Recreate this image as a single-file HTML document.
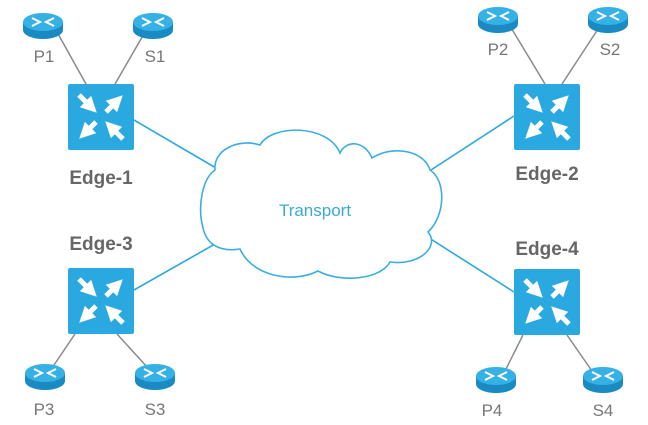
<!DOCTYPE html>
<html><head><meta charset="utf-8"><style>
html,body{margin:0;padding:0;background:#fff;}
svg{display:block;}
text{font-family:"Liberation Sans","DejaVu Sans",sans-serif;}
</style></head><body>
<svg width="648" height="425" viewBox="0 0 648 425" xmlns="http://www.w3.org/2000/svg">
<defs>
<marker id="ah" viewBox="0 0 10 10" refX="4" refY="5" markerWidth="3.2" markerHeight="3.2" orient="auto">
<path d="M0,0 L10,5 L0,10 z" fill="#fff"/>
</marker>
<g id="sw">
<rect x="0" y="0" width="66" height="66" rx="2" fill="#2aa9e0"/>
<g stroke="#fff" stroke-width="5" marker-end="url(#ah)">
<line x1="11" y1="11" x2="22" y2="22"/>
<line x1="38" y1="28" x2="48" y2="18"/>
<line x1="28" y1="38" x2="18" y2="48"/>
<line x1="55" y1="55" x2="44" y2="44"/>
</g>
</g>
<g id="rt">
<path d="M-20,0 v8 a20,9 0 0 0 40,0 v-8 z" fill="#1a8ac2"/>
<ellipse cx="0" cy="0" rx="20" ry="9" fill="#36b1e6"/>
<g stroke="#fff" stroke-width="2" fill="none">
<path d="M-11,-4 L-3,0 L-11,4"/><path d="M11,-4 L3,0 L11,4"/>
</g>
</g>
</defs>
<g stroke="#8a8a8a" stroke-width="1.5">
<line x1="57" y1="32" x2="86" y2="84"/>
<line x1="145" y1="32" x2="115" y2="84"/>
<line x1="510" y1="26" x2="545" y2="84"/>
<line x1="600" y1="26" x2="562" y2="84"/>
<line x1="52" y1="368" x2="75" y2="334"/>
<line x1="148" y1="368" x2="117" y2="334"/>
<line x1="505" y1="371" x2="523" y2="335"/>
<line x1="592" y1="371" x2="567" y2="335"/>
</g>
<g stroke="#2aa9e0" stroke-width="1.6">
<line x1="134" y1="120" x2="216" y2="168"/>
<line x1="514" y1="116" x2="431" y2="170"/>
<line x1="134" y1="290" x2="215" y2="244"/>
<line x1="514" y1="292" x2="426" y2="236"/>
</g>
<path d="M215,170 C203,178 197,205 203,228 C207,246 222,252 240,249 C252,276 292,284 318,271 C340,283 380,280 390,262 C420,266 440,246 428,232 C446,215 446,180 430,170 C424,150 392,145 372,158 C364,140 346,140 340,153 C328,124 272,124 260,145 C238,138 213,150 215,170 z" fill="#fff" stroke="#3aaee0" stroke-width="1.6"/>
<text x="315" y="216" font-size="17" fill="#3aa9da" text-anchor="middle">Transport</text>
<use href="#sw" x="68" y="84"/>
<use href="#sw" x="514" y="84"/>
<use href="#sw" x="68" y="268"/>
<use href="#sw" x="514" y="269"/>
<g font-size="19" font-weight="bold" fill="#666" text-anchor="middle">
<text x="101" y="184">Edge-1</text>
<text x="547" y="180">Edge-2</text>
<text x="101" y="250">Edge-3</text>
<text x="547" y="255">Edge-4</text>
</g>
<use href="#rt" x="43" y="22"/>
<use href="#rt" x="153" y="22"/>
<use href="#rt" x="498" y="16"/>
<use href="#rt" x="608" y="16"/>
<use href="#rt" x="45" y="373"/>
<use href="#rt" x="155" y="373"/>
<use href="#rt" x="496" y="376"/>
<use href="#rt" x="603" y="376"/>
<g font-size="17" fill="#777" text-anchor="middle">
<text x="44" y="62">P1</text>
<text x="155" y="62">S1</text>
<text x="498" y="55">P2</text>
<text x="610" y="55">S2</text>
<text x="44" y="415">P3</text>
<text x="155" y="415">S3</text>
<text x="492" y="416">P4</text>
<text x="603" y="416">S4</text>
</g>
</svg>
</body></html>
